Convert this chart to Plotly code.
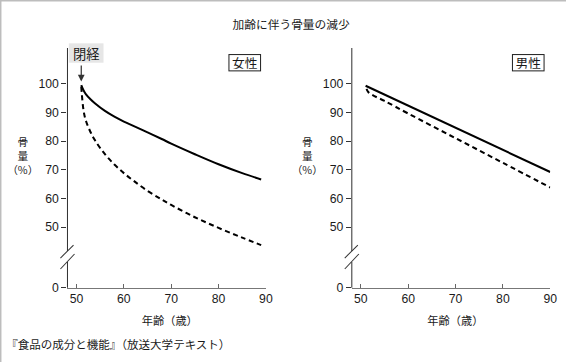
import plotly.graph_objects as go

# ---------------- data ----------------
age_f_solid = [51, 51.5, 52, 53, 54, 56, 58, 60, 62, 65, 68, 70, 75, 80, 85, 89]
bone_f_solid = [99.5, 97.6, 96.3, 94.5, 93.0, 90.5, 88.5, 86.8, 85.3, 83.0, 80.7, 79.1, 75.4, 71.9, 68.8, 66.6]
age_f_dash = [51, 51.5, 52, 53, 54, 56, 58, 60, 62, 65, 68, 70, 75, 80, 85, 89]
bone_f_dash = [99.0, 90.5, 87.0, 83.0, 80.0, 75.4, 71.8, 68.8, 66.2, 62.6, 59.6, 57.7, 53.4, 49.7, 46.3, 43.7]
age_m_solid = [51, 60, 70, 80, 90]
bone_m_solid = [99.3, 92.4, 84.7, 77.0, 69.2]
age_m_dash = [51.2, 51.6, 52.5, 55, 60, 70, 80, 90]
bone_m_dash = [98.2, 97.0, 96.0, 94.0, 89.6, 81.0, 72.4, 63.8]

x_ticks = [50, 60, 70, 80, 90]
y_ticks = [50, 60, 70, 80, 90, 100]
zero_pos = 28.82          # where the broken axis shows "0"
y_tick_text = ["0"] + [str(v) for v in y_ticks]

title = "加齢に伴う骨量の減少"
source = "『食品の成分と機能』（放送大学テキスト）"
x_title = "年齢（歳）"
y_title = "骨<br>量<br>（%）"
panel_f = "女性"
panel_m = "男性"
meno = "閉経"

# ---------------- layout helpers ----------------
W, H = 566, 362
def px(x):
    return x / W
def py(y):
    return 1 - y / H

JP = "Noto Sans CJK JP"
NUM = "Liberation Sans, Arial, sans-serif"
INK = "#1a1a1a"

fig = go.Figure()
line_solid = dict(color="black", width=2)
line_dash = dict(color="black", width=2, dash="5px,3.5px")

fig.add_trace(go.Scatter(x=age_f_solid, y=bone_f_solid, mode="lines", line=line_solid,
                         line_shape="spline", xaxis="x", yaxis="y", showlegend=False, hoverinfo="skip"))
fig.add_trace(go.Scatter(x=age_f_dash, y=bone_f_dash, mode="lines", line=line_dash,
                         line_shape="spline", xaxis="x", yaxis="y", showlegend=False, hoverinfo="skip"))
fig.add_trace(go.Scatter(x=age_m_solid, y=bone_m_solid, mode="lines", line=line_solid,
                         xaxis="x2", yaxis="y2", showlegend=False, hoverinfo="skip"))
fig.add_trace(go.Scatter(x=age_m_dash, y=bone_m_dash, mode="lines", line=line_dash,
                         line_shape="spline", xaxis="x2", yaxis="y2", showlegend=False, hoverinfo="skip"))

x_range = [48.09, 90]
y_range = [zero_pos, 112.46]
ydom = [py(287.7), py(48)]

xcommon = dict(range=x_range, tickvals=x_ticks, ticks="inside", ticklen=4, tickcolor="#666",
               showline=True, linecolor="#777", linewidth=1, showgrid=False, zeroline=False,
               tickfont=dict(family=NUM, size=12, color=INK), fixedrange=True)
ycommon = dict(range=y_range, domain=ydom, tickvals=[zero_pos] + y_ticks, ticktext=y_tick_text,
               ticks="outside", ticklen=5, tickcolor="#333", showline=False, showgrid=False,
               zeroline=False, tickfont=dict(family=NUM, size=12, color=INK), fixedrange=True)

fig.update_layout(
    width=W, height=H,
    margin=dict(l=0, r=0, t=0, b=0),
    paper_bgcolor="white", plot_bgcolor="white",
    xaxis=dict(domain=[px(67), px(264)], anchor="y", **xcommon),
    yaxis=dict(anchor="x", **ycommon),
    xaxis2=dict(domain=[px(349.3), px(546.3)], anchor="y2", **xcommon),
    yaxis2=dict(anchor="x2", **ycommon),
)

shapes = []
# outer frame (top, left, right)
frame = dict(type="line", xref="paper", yref="paper", line=dict(color="#bdbdbd", width=1.5))
shapes.append(dict(frame, x0=0, x1=1, y0=py(0.7), y1=py(0.7)))
shapes.append(dict(frame, x0=px(0.7), x1=px(0.7), y0=0, y1=1))
shapes.append(dict(frame, x0=px(564.5), x1=px(564.5), y0=0, y1=1))

# broken y axes
for ax_x in (67, 349.3):
    ln = dict(type="line", xref="paper", yref="paper", line=dict(color="#333", width=1))
    shapes.append(dict(ln, x0=px(ax_x), x1=px(ax_x), y0=py(48), y1=py(251)))
    shapes.append(dict(ln, x0=px(ax_x), x1=px(ax_x), y0=py(262), y1=py(287.7)))
    shapes.append(dict(ln, x0=px(ax_x - 7), x1=px(ax_x + 6), y0=py(258), y1=py(245)))
    shapes.append(dict(ln, x0=px(ax_x - 7), x1=px(ax_x + 7), y0=py(269), y1=py(254)))
fig.update_layout(shapes=shapes)

base = dict(xref="paper", yref="paper", showarrow=False, xanchor="center", yanchor="middle")
ann = []
ann.append(dict(base, text=title, x=px(289), y=py(23),
                font=dict(family=JP, size=11.5, color=INK)))
ann.append(dict(base, text=source, x=px(4), y=py(344), xanchor="left",
                font=dict(family=JP, size=11.3, color=INK)))
for cx in (169, 452):
    ann.append(dict(base, text=x_title, x=px(cx), y=py(320),
                    font=dict(family=JP, size=11, color=INK)))
for cx in (23, 305):
    ann.append(dict(base, text=y_title, x=px(cx), y=py(155),
                    font=dict(family=JP, size=10.5, color=INK)))
for cx, lab in ((242.5, panel_f), (524.5, panel_m)):
    ann.append(dict(base, text=lab, x=px(cx), y=py(62.5),
                    font=dict(family=JP, size=12.5, color=INK), bgcolor="white",
                    bordercolor="#222", borderwidth=1, borderpad=1.5, width=27, height=12))
# menopause label and arrow
ann.append(dict(base, text=meno, x=px(85.5), y=py(53),
                font=dict(family=JP, size=13, color=INK), bgcolor="#e6e6e6", borderpad=1,
                width=31, height=16))
ann.append(dict(text="", x=51, y=100.8, xref="x", yref="y", showarrow=True,
                ax=0, ay=-17, arrowhead=2, arrowsize=1.1, arrowwidth=1.2, arrowcolor="#333"))
fig.update_layout(annotations=ann)

post = (
    "document.documentElement.style.margin='0';"
    "document.documentElement.style.overflow='hidden';"
    "document.body.style.margin='0';"
    "document.body.style.overflow='hidden';"
    "var gd=document.getElementById('{plot_id}');"
    "gd.style.position='fixed';gd.style.left='0px';gd.style.top='0px';"
    "gd.style.transformOrigin='0 0';gd.style.transform='scale(1.0198)';"
)
fig.write_html("out.html", post_script=post, config={"displayModeBar": False, "staticPlot": True})
